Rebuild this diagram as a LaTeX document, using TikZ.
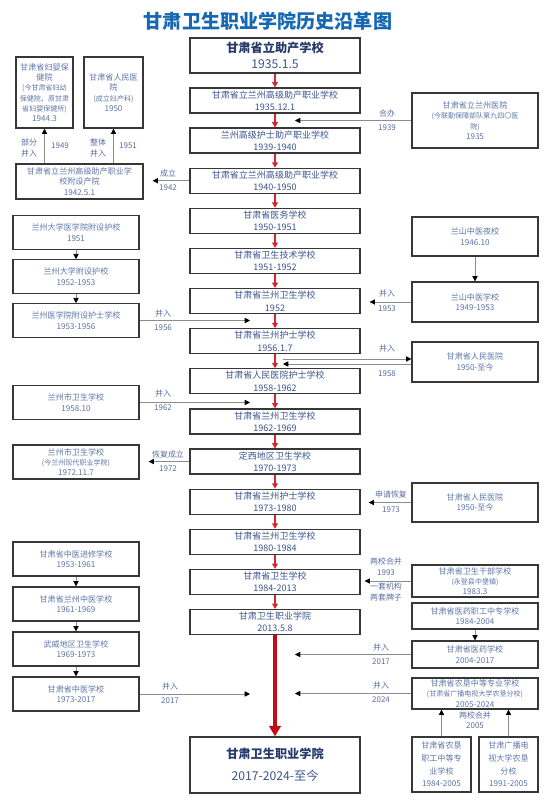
\documentclass[tikz,border=0pt]{standalone}
\usepackage{fontspec}
\setmainfont{Noto Sans CJK SC}
\usepackage{tikz}
\usetikzlibrary{arrows.meta,positioning,calc}

\definecolor{titleblue}{RGB}{22,104,178}
\definecolor{boxline}{RGB}{55,55,55}
\definecolor{boxtext}{RGB}{60,84,142}
\definecolor{sidetext}{RGB}{95,118,168}
\definecolor{labtext}{RGB}{88,108,158}
\definecolor{boldtext}{RGB}{40,58,108}
\definecolor{redline}{RGB}{212,38,48}
\definecolor{mainred}{RGB}{192,12,22}
\definecolor{linkline}{RGB}{140,140,140}
\newcommand{\midfont}{\fontsize{7.7}{10.5}\selectfont}
\newcommand{\sidefont}{\fontsize{6.9}{8.8}\selectfont}
\newcommand{\smfont}{\fontsize{6}{8}\selectfont}
\newcommand{\labfont}{\fontsize{6.8}{8.6}\selectfont}
\newcommand{\bigfont}{\fontsize{10.4}{13.5}\selectfont}

\begin{document}
\begin{tikzpicture}[x=0.03cm, y=-0.03cm,
  box/.style={draw=boxline, line width=1.1pt, fill=white, align=center, inner sep=1pt},
  mid/.style={box, text=boxtext, font=\midfont, minimum width=5.1cm, minimum height=0.75cm},
  side/.style={box, text=sidetext, font=\sidefont, minimum width=3.78cm},
  lab/.style={text=labtext, font=\labfont, align=center, inner sep=0pt},
  redarr/.style={-{Triangle[length=4.5pt,width=5pt]}, redline, line width=0.9pt},
  mainarr/.style={-{Triangle[length=9pt,width=10pt]}, mainred, line width=3.2pt},
  link/.style={-{Triangle[length=4.5pt,width=4.5pt,color=black]}, linkline, line width=0.6pt}
]
\useasboundingbox (0,0) rectangle (554,800);
\node[font=\bfseries\fontsize{16.3}{18}\selectfont, text=titleblue] (title) at (268,21.5) {甘肃卫生职业学院历史沿革图};

\node[mid, font=\bigfont, minimum height=1.05cm] (c1) at (275,55.5) {\textcolor{boldtext}{\bfseries 甘肃省立助产学校}\\1935.1.5};
\foreach \i/\nm/\yr in {
  2/甘肃省立兰州高级助产职业学校/1935.12.1,
  3/兰州高级护士助产职业学校/1939-1940,
  4/甘肃省立兰州高级助产职业学校/1940-1950,
  5/甘肃省医务学校/1950-1951,
  6/甘肃省卫生技术学校/1951-1952,
  7/甘肃省兰州卫生学校/1952,
  8/甘肃省兰州护士学校/1956.1.7,
  9/甘肃省人民医院护士学校/1958-1962,
  10/甘肃省兰州卫生学校/1962-1969,
  11/定西地区卫生学校/1970-1973,
  12/甘肃省兰州护士学校/1973-1980,
  13/甘肃省兰州卫生学校/1980-1984,
  14/甘肃省卫生学校/1984-2013,
  15/甘肃卫生职业学院/2013.5.8}
  \node[mid] (c\i) at (275,{100.5+40.12*(\i-2)}) {\nm\\\yr};
\node[mid, font=\fontsize{10.4}{19}\selectfont, minimum height=1.68cm] (cF) at (275,765) {\textcolor{boldtext}{\bfseries 甘肃卫生职业学院}\\2017-2024-至今};
\foreach \i [count=\j from 2] in {1,...,14}
  \draw[redarr] (c\i.south) -- (c\j.north);
\draw[mainarr] (c15.south) -- (cF.north);

\node[side, minimum width=1.71cm, minimum height=2.13cm] (l1) at (44.5,92.5) {甘肃省妇婴保\\健院\\{\smfont (今甘肃省妇幼}\\{\smfont 保健院，原甘肃}\\{\smfont 省妇婴保健所)}\\1944.3};
\node[side, minimum width=1.77cm, minimum height=2.13cm] (l2) at (113.5,92.5) {甘肃省人民医\\院\\{\smfont (成立妇产科)}\\1950};
\node[side, minimum width=3.81cm, minimum height=1.05cm] (l3) at (79.5,181.5) {甘肃省立兰州高级助产职业学\\校附设产院\\1942.5.1};
\node[side, minimum height=1cm] (l4) at (76,232.5) {兰州大学医学院附设护校\\1951};
\node[side, minimum height=1cm] (l5) at (76,276.5) {兰州大学附设护校\\1952-1953};
\node[side, minimum height=1cm] (l6) at (76,320.5) {兰州医学院附设护士学校\\1953-1956};
\node[side, minimum height=1cm] (l7) at (76,402.5) {兰州市卫生学校\\1958.10};
\node[side, minimum height=1.02cm] (l8) at (76,462) {兰州市卫生学校\\{\smfont (今兰州现代职业学院)}\\1972.11.7};
\node[side, minimum height=1.02cm] (l9) at (76,559) {甘肃省中医进修学校\\1953-1961};
\node[side, minimum height=1.02cm] (l10) at (76,604) {甘肃省兰州中医学校\\1961-1969};
\node[side, minimum height=1.02cm] (l11) at (76,649) {武威地区卫生学校\\1969-1973};
\node[side, minimum height=1.02cm] (l12) at (76,694) {甘肃省中医学校\\1973-2017};

\node[side, minimum height=1.65cm] (r1) at (475,120.5) {甘肃省立兰州医院\\{\smfont (今联勤保障部队第九四〇医}\\{\smfont 院)}\\1935};
\node[side, minimum height=1.17cm] (r2) at (475,236.5) {兰山中医夜校\\1946.10};
\node[side, minimum height=1.2cm] (r3) at (475,302) {兰山中医学校\\1949-1953};
\node[side, minimum height=1.2cm] (r4) at (475,362) {甘肃省人民医院\\1950-至今};
\node[side, minimum height=1.17cm] (r5) at (475,502.5) {甘肃省人民医院\\1950-至今};
\node[side, minimum height=0.96cm] (r6) at (475,581) {甘肃省卫生干部学校\\{\smfont (永登县中堡镇)}\\1983.3};
\node[side, minimum height=0.78cm] (r7) at (475,616) {甘肃省医药职工中专学校\\1984-2004};
\node[side, minimum height=0.81cm] (r8) at (475,654.5) {甘肃省医药学校\\2004-2017};
\node[side, minimum height=0.93cm] (r9) at (475,693.5) {甘肃省农垦中等专业学校\\{\smfont (甘肃省广播电视大学农垦分校)}\\2005-2024};
\node[side, minimum width=1.77cm, minimum height=1.65cm] (r10) at (441.5,764.5) {甘肃省农垦\\[2pt]职工中等专\\[2pt]业学校\\[2pt]1984-2005};
\node[side, minimum width=1.77cm, minimum height=1.65cm] (r11) at (508.5,764.5) {甘肃广播电\\[2pt]视大学农垦\\[2pt]分校\\[2pt]1991-2005};

\coordinate (spineL) at (250,0);
\coordinate (spineM) at (283,0);
\coordinate (spineR) at (295,0);
\coordinate (r4in) at ($(r4.west)+(0,-3)$);
\coordinate (r4out) at ($(r4.west)+(0,2)$);

\draw[link] (l3.north -| l1) -- (l1.south);
\draw[link] (l3.north -| l2) -- (l2.south);
\draw[link, shorten >=0.27cm] (c4.west) -- (c4.west -| l3.east);
\draw[link] (l4.south) -- (l5.north);
\draw[link] (l5.south) -- (l6.north);
\draw[link] (l6.east) -- (l6.east -| spineL);
\draw[link] (l7.east) -- (l7.east -| spineL);
\draw[link, shorten >=0.27cm] (c11.west) -- (c11.west -| l8.east);
\draw[link] (l9.south) -- (l10.north);
\draw[link] (l10.south) -- (l11.north);
\draw[link] (l11.south) -- (l12.north);
\draw[link] (l12.east) -- (l12.east -| spineL);

\draw[link] (r1.west) -- (r1.west -| spineR);
\draw[link] (r2.south) -- (r3.north);
\draw[link, shorten >=0.27cm] (r3.west) -- (r3.west -| c7.east);
\draw[link] (r4in -| spineM) -- (r4in);
\draw[link] (r4out) -- (r4out -| spineM);
\draw[link, shorten >=0.24cm] (r5.west) -- (r5.west -| c12.east);
\draw[link, shorten >=0.12cm] (r6.west) -- (r6.west -| c14.east);
\draw[link] (r7.south) -- (r8.north);
\draw[link] (r8.west) -- (r8.west -| spineR);
\draw[link] (r9.west) -- (r9.west -| spineR);
\draw[link] (r10.north) -- (r10.north |- r9.south);
\draw[link] (r11.north) -- (r11.north |- r9.south);

\foreach \x/\y/\t [count=\k] in {
  29/148/{部分\\并入}, 60/146/1949, 98/148/{整体\\并入}, 128/146/1951,
  168/173/成立, 168/188/1942, 387/113/合办, 387/128/1939,
  163/313/并入, 163/328/1956, 387/293/并入, 387/309/1953,
  387/348/并入, 387/374/1958, 163/393/并入, 163/408/1962,
  168/454/恢复成立, 168/469/1972, 391/494/申请恢复, 391/510/1973,
  386/561/两校合并, 386/573/1993, 386/586/一套机构, 386/597/两套牌子,
  381/647/并入, 381/662/2017, 381/685/并入, 381/700/2024,
  170/686/并入, 170/701/2017, 475/720.5/{两校合并\\2005}}
  \node[lab] (m\k) at (\x,\y) {\t};
\end{tikzpicture}
\end{document}
